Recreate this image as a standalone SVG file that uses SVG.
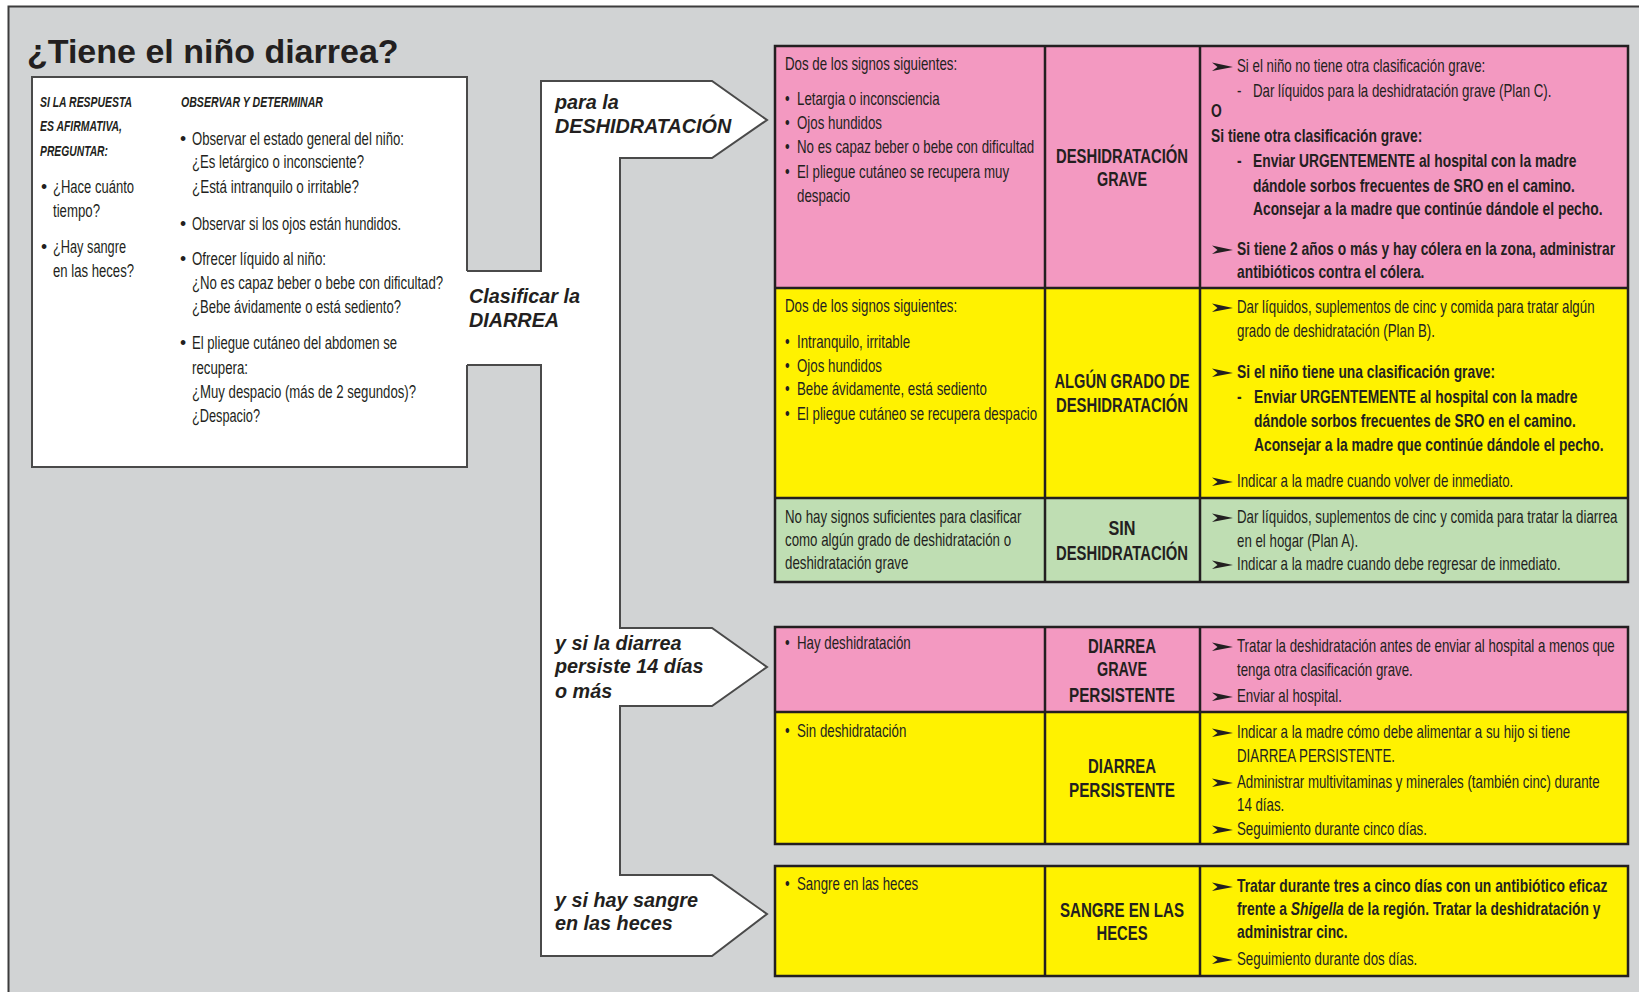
<svg xmlns="http://www.w3.org/2000/svg" width="1639" height="992" viewBox="0 0 1639 992">
<defs>
<style>
.t{font-family:"Liberation Sans",Arial,sans-serif;font-size:17.5px;fill:#231f20}
.b{font-weight:bold;font-size:18.2px}
.cls{font-family:"Liberation Sans",Arial,sans-serif;font-weight:bold;font-size:20px;fill:#231f20;text-anchor:middle}
.hd{font-family:"Liberation Sans",Arial,sans-serif;font-weight:bold;font-style:italic;font-size:15px;fill:#231f20}
.lab{font-family:"Liberation Sans",Arial,sans-serif;font-weight:bold;font-style:italic;font-size:19.8px;fill:#231f20}
.title{font-family:"Liberation Sans",Arial,sans-serif;font-weight:bold;font-size:34px;fill:#231f20}
.pk{fill:#f399c1}
.yl{fill:#fff200}
.gr{fill:#bfdeb3}
.grid{stroke:#231f20;stroke-width:2.5;fill:none}
</style>
<path id="arr" d="M0,-4.5 L21,0 L0,4 L5.5,0 Z" fill="#231f20"/>
</defs>
<rect x="0" y="0" width="1639" height="992" fill="#ffffff"/>
<rect x="8.5" y="6.5" width="1700" height="1100" fill="#d1d3d4" stroke="#3c3c3c" stroke-width="2"/>
<text class="title" x="27" y="63">¿Tiene el niño diarrea?</text>

<g id="connectors">
<path d="M467,271 H541 V81 H712 L767,120 L712,158 H620 V628 H712 L767,667 L712,706 H620 V875 H712 L767,914 L712,956 H541 V365 H467" fill="#ffffff" stroke="#4a4a4a" stroke-width="2"/>
<text class="lab" x="555" y="109">para la</text>
<text class="lab" x="555" y="133">DESHIDRATACIÓN</text>
<text class="lab" x="469" y="303">Clasificar la</text>
<text class="lab" x="469" y="327">DIARREA</text>
<text class="lab" x="555" y="650">y si la diarrea</text>
<text class="lab" x="555" y="673">persiste 14 días</text>
<text class="lab" x="555" y="698">o más</text>
<text class="lab" x="555" y="907">y si hay sangre</text>
<text class="lab" x="555" y="930">en las heces</text>
</g>

<g id="ask-box">
<path d="M467,271 V77 H32 V467 H467 V365" fill="#ffffff" stroke="#4a4a4a" stroke-width="2"/>
<text class="hd" x="40" y="107" textLength="92" lengthAdjust="spacingAndGlyphs">SI LA RESPUESTA</text>
<text class="hd" x="40" y="131" textLength="82" lengthAdjust="spacingAndGlyphs">ES AFIRMATIVA,</text>
<text class="hd" x="40" y="156" textLength="68" lengthAdjust="spacingAndGlyphs">PREGUNTAR:</text>
<text class="hd" x="181" y="107" textLength="142" lengthAdjust="spacingAndGlyphs">OBSERVAR Y DETERMINAR</text>
<text class="t" x="41" y="193">•</text><text class="t" x="53" y="193" textLength="81" lengthAdjust="spacingAndGlyphs">¿Hace cuánto</text>
<text class="t" x="53" y="217" textLength="47" lengthAdjust="spacingAndGlyphs">tiempo?</text>
<text class="t" x="41" y="253">•</text><text class="t" x="53" y="253" textLength="73" lengthAdjust="spacingAndGlyphs">¿Hay sangre</text>
<text class="t" x="53" y="277" textLength="81" lengthAdjust="spacingAndGlyphs">en las heces?</text>
<text class="t" x="180" y="145">•</text><text class="t" x="192" y="145" textLength="212" lengthAdjust="spacingAndGlyphs">Observar el estado general del niño:</text>
<text class="t" x="192" y="168" textLength="172" lengthAdjust="spacingAndGlyphs">¿Es letárgico o inconsciente?</text>
<text class="t" x="192" y="193" textLength="167" lengthAdjust="spacingAndGlyphs">¿Está intranquilo o irritable?</text>
<text class="t" x="180" y="230">•</text><text class="t" x="192" y="230" textLength="209" lengthAdjust="spacingAndGlyphs">Observar si los ojos están hundidos.</text>
<text class="t" x="180" y="265">•</text><text class="t" x="192" y="265" textLength="134" lengthAdjust="spacingAndGlyphs">Ofrecer líquido al niño:</text>
<text class="t" transform="translate(192 289) scale(0.755 1)" x="0" y="0">¿No es capaz beber o bebe con dificultad?</text>
<text class="t" x="192" y="313" textLength="209" lengthAdjust="spacingAndGlyphs">¿Bebe ávidamente o está sediento?</text>
<text class="t" x="180" y="349">•</text><text class="t" x="192" y="349" textLength="205" lengthAdjust="spacingAndGlyphs">El pliegue cutáneo del abdomen se</text>
<text class="t" x="192" y="374" textLength="56" lengthAdjust="spacingAndGlyphs">recupera:</text>
<text class="t" x="192" y="398" textLength="224" lengthAdjust="spacingAndGlyphs">¿Muy despacio (más de 2 segundos)?</text>
<text class="t" x="192" y="422" textLength="68" lengthAdjust="spacingAndGlyphs">¿Despacio?</text>
</g>

<g id="table-dehydration">
<rect class="pk" x="775" y="46" width="853" height="242"/>
<rect class="yl" x="775" y="288" width="853" height="210"/>
<rect class="gr" x="775" y="498" width="853" height="84"/>
<path class="grid" d="M775,288 H1628 M775,498 H1628 M1045,46 V582 M1200,46 V582"/>
<rect class="grid" x="775" y="46" width="853" height="536"/>

<g id="row-severe">
<text class="cls" x="1122" y="163" textLength="132" lengthAdjust="spacingAndGlyphs">DESHIDRATACIÓN</text>
<text class="cls" x="1122" y="186" textLength="50" lengthAdjust="spacingAndGlyphs">GRAVE</text>
<use href="#arr" x="1212" y="67"/>
<use href="#arr" x="1212" y="250"/>
<g transform="scale(0.76 1)">
<text class="t" x="1032.89" y="70">Dos de los signos siguientes:</text>
<text class="t" x="1032.89" y="105">•</text><text class="t" x="1048.68" y="105">Letargia o inconsciencia</text>
<text class="t" x="1032.89" y="129">•</text><text class="t" x="1048.68" y="129">Ojos hundidos</text>
<text class="t" x="1032.89" y="153">•</text><text class="t" x="1048.68" y="153">No es capaz beber o bebe con dificultad</text>
<text class="t" x="1032.89" y="178">•</text><text class="t" x="1048.68" y="178">El pliegue cutáneo se recupera muy</text>
<text class="t" x="1048.68" y="202">despacio</text>
<text class="t" x="1627.63" y="72">Si el niño no tiene otra clasificación grave:</text>
<text class="t" x="1627.63" y="97">-</text><text class="t" x="1648.68" y="97">Dar líquidos para la deshidratación grave (Plan C).</text>
<text class="t b" x="1593.42" y="117">O</text>
<text class="t b" x="1593.42" y="142">Si tiene otra clasificación grave:</text>
<text class="t b" x="1627.63" y="167">-</text><text class="t b" x="1648.68" y="167">Enviar URGENTEMENTE al hospital con la madre</text>
<text class="t b" x="1648.68" y="192">dándole sorbos frecuentes de SRO en el camino.</text>
<text class="t b" x="1648.68" y="215">Aconsejar a la madre que continúe dándole el pecho.</text>
<text class="t b" x="1627.63" y="255">Si tiene 2 años o más y hay cólera en la zona, administrar</text>
<text class="t b" x="1627.63" y="278">antibióticos contra el cólera.</text>
</g>
</g>

<g id="row-some">
<text class="cls" x="1122" y="388" textLength="135" lengthAdjust="spacingAndGlyphs">ALGÚN GRADO DE</text>
<text class="cls" x="1122" y="412" textLength="132" lengthAdjust="spacingAndGlyphs">DESHIDRATACIÓN</text>
<use href="#arr" x="1212" y="308"/>
<use href="#arr" x="1212" y="373"/>
<use href="#arr" x="1212" y="482"/>
<g transform="scale(0.76 1)">
<text class="t" x="1032.89" y="312">Dos de los signos siguientes:</text>
<text class="t" x="1032.89" y="348">•</text><text class="t" x="1048.68" y="348">Intranquilo, irritable</text>
<text class="t" x="1032.89" y="372">•</text><text class="t" x="1048.68" y="372">Ojos hundidos</text>
<text class="t" x="1032.89" y="395">•</text><text class="t" x="1048.68" y="395">Bebe ávidamente, está sediento</text>
<text class="t" x="1032.89" y="420">•</text><text class="t" x="1048.68" y="420">El pliegue cutáneo se recupera despacio</text>
<text class="t" x="1627.63" y="313">Dar líquidos, suplementos de cinc y comida para tratar algún</text>
<text class="t" x="1627.63" y="337">grado de deshidratación (Plan B).</text>
<text class="t b" x="1627.63" y="378">Si el niño tiene una clasificación grave:</text>
<text class="t b" x="1627.63" y="403">-</text><text class="t b" x="1650" y="403">Enviar URGENTEMENTE al hospital con la madre</text>
<text class="t b" x="1650" y="427">dándole sorbos frecuentes de SRO en el camino.</text>
<text class="t b" x="1650" y="451">Aconsejar a la madre que continúe dándole el pecho.</text>
<text class="t" x="1627.63" y="487">Indicar a la madre cuando volver de inmediato.</text>
</g>
</g>

<g id="row-none">
<text class="cls" x="1122" y="535" textLength="27" lengthAdjust="spacingAndGlyphs">SIN</text>
<text class="cls" x="1122" y="560" textLength="132" lengthAdjust="spacingAndGlyphs">DESHIDRATACIÓN</text>
<use href="#arr" x="1212" y="518"/>
<use href="#arr" x="1212" y="565"/>
<g transform="scale(0.76 1)">
<text class="t" x="1032.89" y="523">No hay signos suficientes para clasificar</text>
<text class="t" x="1032.89" y="546">como algún grado de deshidratación o</text>
<text class="t" x="1032.89" y="569">deshidratación grave</text>
<text class="t" x="1627.63" y="523">Dar líquidos, suplementos de cinc y comida para tratar la diarrea</text>
<text class="t" x="1627.63" y="547">en el hogar (Plan A).</text>
<text class="t" x="1627.63" y="570">Indicar a la madre cuando debe regresar de inmediato.</text>
</g>
</g>
</g>

<g id="table-persistent">
<rect class="pk" x="775" y="627" width="853" height="85"/>
<rect class="yl" x="775" y="712" width="853" height="132"/>
<path class="grid" d="M775,712 H1628 M1045,627 V844 M1200,627 V844"/>
<rect class="grid" x="775" y="627" width="853" height="217"/>
<g id="row-severe-persistent">
<text class="cls" x="1122" y="653" textLength="68" lengthAdjust="spacingAndGlyphs">DIARREA</text>
<text class="cls" x="1122" y="676" textLength="50" lengthAdjust="spacingAndGlyphs">GRAVE</text>
<text class="cls" x="1122" y="702" textLength="106" lengthAdjust="spacingAndGlyphs">PERSISTENTE</text>
<use href="#arr" x="1212" y="647"/>
<use href="#arr" x="1212" y="697"/>
<g transform="scale(0.76 1)">
<text class="t" x="1032.89" y="649">•</text><text class="t" x="1048.68" y="649">Hay deshidratación</text>
<text class="t" x="1627.63" y="652">Tratar la deshidratación antes de enviar al hospital a menos que</text>
<text class="t" x="1627.63" y="676">tenga otra clasificación grave.</text>
<text class="t" x="1627.63" y="702">Enviar al hospital.</text>
</g>
</g>
<g id="row-persistent">
<text class="cls" x="1122" y="773" textLength="68" lengthAdjust="spacingAndGlyphs">DIARREA</text>
<text class="cls" x="1122" y="797" textLength="106" lengthAdjust="spacingAndGlyphs">PERSISTENTE</text>
<use href="#arr" x="1212" y="733"/>
<use href="#arr" x="1212" y="783"/>
<use href="#arr" x="1212" y="830"/>
<g transform="scale(0.76 1)">
<text class="t" x="1032.89" y="737">•</text><text class="t" x="1048.68" y="737">Sin deshidratación</text>
<text class="t" x="1627.63" y="738">Indicar a la madre cómo debe alimentar a su hijo si tiene</text>
<text class="t" x="1627.63" y="762">DIARREA PERSISTENTE.</text>
<text class="t" x="1627.63" y="788">Administrar multivitaminas y minerales (también cinc) durante</text>
<text class="t" x="1627.63" y="811">14 días.</text>
<text class="t" x="1627.63" y="835">Seguimiento durante cinco días.</text>
</g>
</g>
</g>

<g id="table-blood">
<rect class="yl" x="775" y="866" width="853" height="110"/>
<path class="grid" d="M1045,866 V976 M1200,866 V976"/>
<rect class="grid" x="775" y="866" width="853" height="110"/>
<g id="row-dysentery">
<text class="cls" x="1122" y="917" textLength="124" lengthAdjust="spacingAndGlyphs">SANGRE EN LAS</text>
<text class="cls" x="1122" y="940" textLength="51" lengthAdjust="spacingAndGlyphs">HECES</text>
<use href="#arr" x="1212" y="887"/>
<use href="#arr" x="1212" y="960"/>
<g transform="scale(0.76 1)">
<text class="t" x="1032.89" y="890">•</text><text class="t" x="1048.68" y="890">Sangre en las heces</text>
<text class="t b" x="1627.63" y="892">Tratar durante tres a cinco días con un antibiótico eficaz</text>
<text class="t b" x="1627.63" y="915">frente a <tspan font-style="italic">Shigella</tspan> de la región. Tratar la deshidratación y</text>
<text class="t b" x="1627.63" y="938">administrar cinc.</text>
<text class="t" x="1627.63" y="965">Seguimiento durante dos días.</text>
</g>
</g>
</g>
</svg>
